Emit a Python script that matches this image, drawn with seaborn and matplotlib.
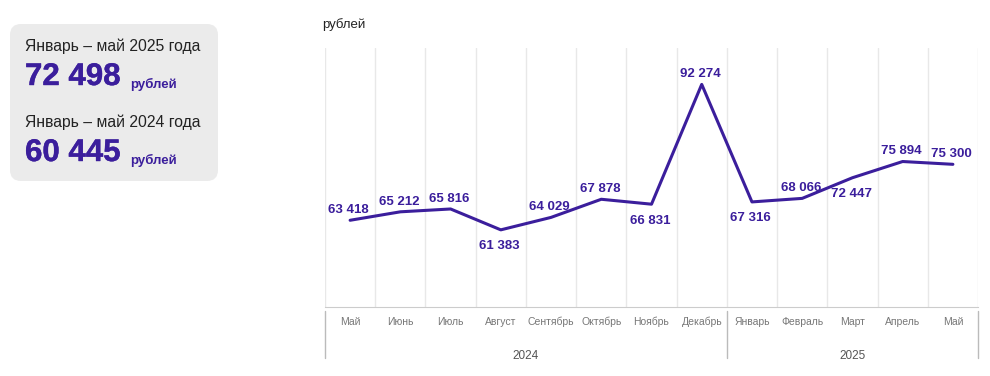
"""Average salary chart: monthly values, May 2024 - May 2025."""
import numpy as np
import pandas as pd
import matplotlib
matplotlib.use("Agg")
import matplotlib.pyplot as plt
import matplotlib.transforms as mtransforms
import matplotlib.patheffects as pe
from matplotlib.patches import FancyBboxPatch
import seaborn as sns

# data
months = ["Май", "Июнь", "Июль", "Август", "Сентябрь", "Октябрь", "Ноябрь",
          "Декабрь", "Январь", "Февраль", "Март", "Апрель", "Май"]
years = ["2024"] * 8 + ["2025"] * 5
values = [63418, 65212, 65816, 61383, 64029, 67878, 66831,
          92274, 67316, 68066, 72447, 75894, 75300]
summary_periods = ["Январь – май 2025 года", "Январь – май 2024 года"]
summary_values = ["72 498", "60 445"]
unit = "рублей"

PURPLE = "#3b1e9c"

sns.set_style("white")
plt.rcParams["font.family"] = ["Liberation Sans", "DejaVu Sans"]

df = pd.DataFrame({"pos": np.arange(len(values)), "month": months,
                   "year": years, "value": values})

fig = plt.figure(figsize=(9.9, 3.76), dpi=100)

# left summary card, drawn in pixel coordinates
card = fig.add_axes([0, 0, 1, 1], zorder=0)
card.set_xlim(0, 990)
card.set_ylim(376, 0)
card.axis("off")
card.add_patch(FancyBboxPatch((10, 24), 208, 157,
                              boxstyle="round,pad=0,rounding_size=11",
                              fc="#ebebeb", ec="none"))
heavy = [pe.withStroke(linewidth=0.3, foreground=PURPLE)]
for i, (period, val) in enumerate(zip(summary_periods, summary_values)):
    dy = i * 76
    card.text(25, 46 + dy, period, fontsize=11.3, color="#222222",
              va="center", ha="left")
    card.text(25, 77 + dy, val, fontsize=22.5, fontweight="bold",
              color=PURPLE, va="center", ha="left", path_effects=heavy)
    card.text(130, 84 + dy, unit, fontsize=9.5, fontweight="bold",
              color=PURPLE, va="center", ha="left")

# main line chart
ax = fig.add_axes([325 / 990, 1 - 307 / 376, 653 / 990, 259 / 376], zorder=1)
ax.patch.set_alpha(0)
sns.lineplot(data=df, x="pos", y="value", color=PURPLE, linewidth=2.2, ax=ax)
ax.set_xlim(-0.5, len(values) - 0.5)
ax.set_ylim(45000, 100000)

ax.set_xticks(df["pos"])
ax.set_xticklabels(months, fontsize=7.5, color="#777777")
ax.set_xticks(np.arange(-0.5, len(values)), minor=True)
ax.tick_params(axis="x", which="both", length=0, pad=7)
ax.grid(which="minor", axis="x", color="#e8e8e8", linewidth=1)
ax.grid(which="major", axis="both", visible=False)
ax.set_yticks([])
ax.set_xlabel("")
ax.set_ylabel("")
for s in ["left", "right", "top"]:
    ax.spines[s].set_visible(False)
ax.spines["bottom"].set_color("#cccccc")

ax.text(-0.005, 1.065, unit, transform=ax.transAxes, fontsize=9.5,
        color="#222222", ha="left", va="bottom")

# value labels
label_side = [1, 1, 1, -1, 1, 1, -1, 1, -1, 1, -1, 1, 1]
for x, v, side in zip(df["pos"], df["value"], label_side):
    txt = f"{v:,}".replace(",", " ")
    ax.annotate(txt, (x, v), xytext=(-1, 3 if side > 0 else -7.5),
                textcoords="offset points",
                ha="center", va="bottom" if side > 0 else "top",
                fontsize=9.5, fontweight="bold", color=PURPLE)

# year grouping under month labels
trans = mtransforms.blended_transform_factory(ax.transData, ax.transAxes)
bounds = [-0.5]
for i in range(1, len(years)):
    if years[i] != years[i - 1]:
        bounds.append(i - 0.5)
bounds.append(len(years) - 0.5)
for b in bounds:
    ax.plot([b, b], [-0.015, -0.197], transform=trans, color="#bbbbbb",
            linewidth=1, clip_on=False)
for y in df["year"].unique():
    sub = df[df["year"] == y]["pos"]
    ax.text((sub.min() + sub.max()) / 2, -0.19, y, transform=trans,
            fontsize=8.5, color="#555555", ha="center", va="center")

fig.savefig("out.png", dpi=100)
